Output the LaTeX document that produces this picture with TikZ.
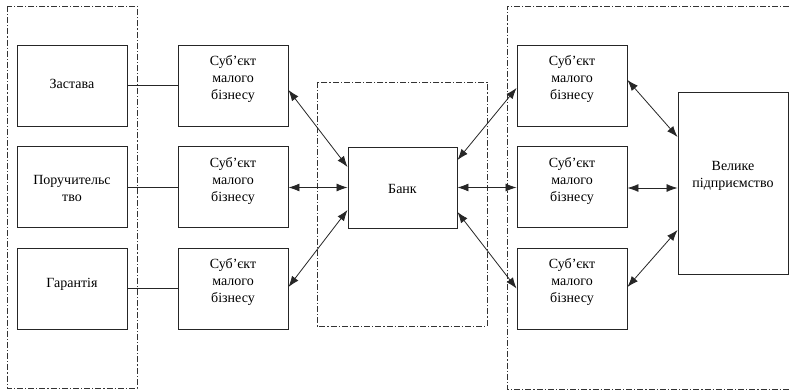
\documentclass[tikz,border=0pt]{standalone}
\usepackage{fontspec}
\setmainfont{Liberation Serif}
\usetikzlibrary{arrows.meta,calc}
\begin{document}
\begin{tikzpicture}[x=1pt,y=-1pt,
  box/.style={draw=black!85,line width=0.9pt,minimum width=110pt,minimum height=81pt,inner sep=0pt,
    font=\fontsize{14}{17}\selectfont,align=center},
  frame/.style={draw=black!80,line width=0.8pt,dash pattern=on 6pt off 2pt on 1.2pt off 2pt},
  link/.style={line width=0.8pt,draw=black!85},
  biarrow/.style={link,{Latex[length=11pt,width=8pt]}-{Latex[length=11pt,width=8pt]}},
  txt/.style={font=\fontsize{14}{17}\selectfont,align=center,inner sep=0pt}]
\useasboundingbox (0,0) rectangle (791,390);
\clip (0,0) rectangle (791,390);
\fill[white] (0,0) rectangle (791,390);
% frames
\draw[frame] (7,6) rectangle (137,388);
\draw[frame] (317,82) rectangle (487,326);
\draw[frame] (800,6) -- (507,6) -- (507,389) -- (800,389);
% left boxes
\node[box,label={[txt,yshift=2pt]center:Застава}] (l1) at (72,85.5) {};
\node[box,label={[txt,yshift=-1.5pt]center:Поручительс\\тво}] (l2) at (72,187) {};
\node[box,label={[txt,yshift=4pt]center:Гарантія}] (l3) at (72,288.5) {};
% middle boxes
\node[box,label={[txt,yshift=6.5pt]center:Суб’єкт\\малого\\бізнесу}] (m1) at (233,85.5) {};
\node[box,label={[txt,yshift=6pt]center:Суб’єкт\\малого\\бізнесу}] (m2) at (233,187) {};
\node[box,label={[txt,yshift=6.5pt]center:Суб’єкт\\малого\\бізнесу}] (m3) at (233,288.5) {};
% bank
\node[box,minimum width=109pt,label={[txt,yshift=-1.5pt]center:Банк}] (bank) at (402.5,187.5) {};
% right boxes
\node[box,label={[txt,yshift=6.5pt]center:Суб’єкт\\малого\\бізнесу}] (r1) at (572,85.5) {};
\node[box,label={[txt,yshift=6pt]center:Суб’єкт\\малого\\бізнесу}] (r2) at (572,187) {};
\node[box,label={[txt,yshift=6.5pt]center:Суб’єкт\\малого\\бізнесу}] (r3) at (572,288.5) {};
\node[box,minimum height=182pt,label={[txt,yshift=7.5pt]center:Велике\\підприємство}] (big) at (733,183) {};
% plain links
\draw[link] (l1.east) -- (m1.west);
\draw[link] (l2.east) -- (m2.west);
\draw[link] (l3.east) -- (m3.west);
% arrows to bank
\draw[biarrow] ([yshift=-4.5pt]m1.east) -- ([yshift=20.5pt]bank.west);
\draw[biarrow] ([yshift=-0.5pt]m2.east) -- (bank.west);
\draw[biarrow] ([yshift=1.5pt]m3.east) -- ([yshift=-22.5pt]bank.west);
% bank to right
\draw[biarrow] ([yshift=27.5pt]bank.east) -- ([yshift=-2.5pt]r1.west);
\draw[biarrow] (bank.east) -- ([yshift=-0.5pt]r2.west);
\draw[biarrow] ([yshift=-24.5pt]bank.east) -- (r3.west);
% right to big
\draw[biarrow] ([yshift=5.5pt]r1.east) -- ([yshift=46pt]big.west);
\draw[biarrow] ([yshift=-1pt]r2.east) -- ([yshift=-5pt]big.west);
\draw[biarrow] ([yshift=1.5pt]r3.east) -- ([yshift=-47pt]big.west);
\end{tikzpicture}
\end{document}
